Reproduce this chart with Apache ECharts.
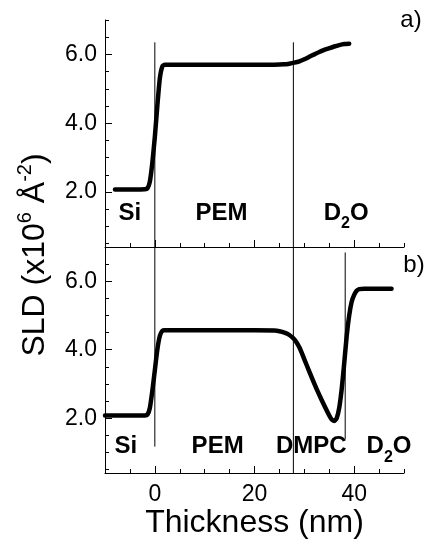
<!DOCTYPE html>
<html>
<head>
<meta charset="utf-8">
<style>
    html, body { margin: 0; padding: 0; background: #fff; }
    #chart { width: 426px; height: 542px; }
</style>
<script src="https://cdn.jsdelivr.net/npm/echarts@6/dist/echarts.min.js"></script>
</head>
<body>
<div id="chart"></div>
<script>
    // panel a) Si / PEM / D2O
    const thickA = [-8, -4, -2, -1.5, -1, -0.5, 0, 0.5, 1, 1.5, 2, 6, 12, 18, 24, 26, 27, 28, 29, 30, 31, 32, 33, 34, 35, 36, 37, 38, 39];
    const sldA = [2.07, 2.07, 2.08, 2.1, 2.3, 2.85, 3.6, 4.5, 5.3, 5.65, 5.7, 5.7, 5.7, 5.7, 5.7, 5.71, 5.73, 5.76, 5.8, 5.86, 5.93, 6.0, 6.07, 6.13, 6.18, 6.23, 6.27, 6.3, 6.31];

    // panel b) Si / PEM / DMPC / D2O
    const thickB = [-10, -4, -2, -1.5, -1, -0.5, 0, 0.5, 1, 1.5, 2, 8, 14, 20, 24, 25, 26, 27, 28, 29, 30, 31, 32, 33, 34, 35, 35.5, 36, 36.5, 37, 37.5, 38, 38.5, 39, 39.5, 40, 40.5, 41, 42, 45, 47.5];
    const sldB = [2.08, 2.08, 2.08, 2.1, 2.3, 2.8, 3.4, 4.0, 4.4, 4.55, 4.57, 4.57, 4.57, 4.57, 4.56, 4.54, 4.5, 4.43, 4.3, 4.07, 3.72, 3.36, 3.01, 2.68, 2.37, 2.08, 1.96, 1.92, 2.0, 2.3, 2.85, 3.6, 4.4, 5.0, 5.4, 5.6, 5.72, 5.77, 5.78, 5.78, 5.78];

    // layer boundaries: x position, top and bottom of the drawn line
    const boundAX = [0, 27.8];
    const boundATop = [6.35, 6.35];
    const boundABottom = [0.4, 0.4];
    const boundBX = [0, 27.8, 38.2];
    const boundBTop = [7.0, 7.0, 6.84];
    const boundBBottom = [1.17, 0.4, 1.38];

    // layer names and where they sit
    const layerA = ['Si', 'PEM', 'D{sub|2}O'];
    const layerAX = [-5, 13.4, 38.4];
    const layerAY = 1.39;
    const layerB = ['Si', 'PEM', 'DMPC', 'D{sub|2}O'];
    const layerBX = [-5.8, 12.6, 31.4, 47];
    const layerBY = 1.17;

    // ticks
    const xMajor = [0, 20, 40];
    const xMinor = [-5, 0, 5, 10, 15, 20, 25, 30, 35, 40, 45, 50];
    const yMajor = [2, 4, 6];
    const yMinor = [0.5, 1, 1.5, 2, 2.5, 3, 3.5, 4, 4.5, 5, 5.5, 6, 6.5, 7];

    const font = "'Liberation Sans', Arial, sans-serif";
    const xMin = -10, xMax = 50, yMin = 0.4, yMax = 7.0;

    const myChart = echarts.init(document.getElementById('chart'));

    function xAxes(grid, labels) {
        return [{
            gridIndex: grid, type: 'value', position: 'bottom', min: xMin, max: xMax,
            axisLine: { show: true, onZero: false, lineStyle: { color: '#000', width: 1 } },
            axisTick: { show: true, inside: true, length: 7, customValues: xMajor, lineStyle: { color: '#000' } },
            axisLabel: {
                show: labels, customValues: xMajor, margin: 10,
                color: '#000', fontSize: 23, fontFamily: font
            },
            splitLine: { show: false },
            name: labels ? 'Thickness (nm)' : '',
            nameLocation: 'middle', nameGap: 34,
            nameTextStyle: { color: '#000', fontSize: 32, fontFamily: font }
        }, {
            gridIndex: grid, type: 'value', position: 'bottom', min: xMin, max: xMax,
            axisLine: { show: false, onZero: false },
            axisTick: { show: true, inside: true, length: 4, customValues: xMinor, lineStyle: { color: '#000' } },
            axisLabel: { show: false },
            splitLine: { show: false }
        }];
    }

    function yAxes(grid) {
        return [{
            gridIndex: grid, type: 'value', position: 'left', min: yMin, max: yMax,
            axisLine: { show: true, onZero: false, lineStyle: { color: '#000', width: 1 } },
            axisTick: { show: true, inside: true, length: 7, customValues: yMajor, lineStyle: { color: '#000' } },
            axisLabel: {
                customValues: yMajor, margin: 8,
                color: '#000', fontSize: 23, fontFamily: font,
                formatter: v => v.toFixed(1)
            },
            splitLine: { show: false }
        }, {
            gridIndex: grid, type: 'value', position: 'left', min: yMin, max: yMax,
            axisLine: { show: false, onZero: false },
            axisTick: { show: true, inside: true, length: 4, customValues: yMinor, lineStyle: { color: '#000' } },
            axisLabel: { show: false },
            splitLine: { show: false }
        }];
    }

    const profileStyle = { color: '#000', width: 4.5, cap: 'round', join: 'round' };

    function profile(xs, ys, axis) {
        return {
            type: 'line', xAxisIndex: axis, yAxisIndex: axis,
            data: xs.map((x, i) => [x, ys[i]]),
            showSymbol: false, smooth: 0.2,
            lineStyle: profileStyle, silent: true, z: 3
        };
    }

    function boundaries(xs, tops, bottoms, axis) {
        return xs.map((x, i) => ({
            type: 'line', xAxisIndex: axis, yAxisIndex: axis,
            data: [[x, bottoms[i]], [x, tops[i]]],
            showSymbol: false,
            lineStyle: { color: '#000', width: 1 }, silent: true, z: 2
        }));
    }

    const labelRich = {
        sub: { fontSize: 16, fontWeight: 'bold', fontFamily: font, color: '#000', padding: [22, 0, 0, 0] }
    };

    function layers(names, xs, y, axis) {
        return {
            type: 'scatter', xAxisIndex: axis, yAxisIndex: axis,
            symbolSize: 0,
            data: names.map((n, i) => ({ value: [xs[i], y], name: n })),
            label: {
                show: true, position: 'inside',
                formatter: p => p.name,
                color: '#000', opacity: 1, textBorderWidth: 0,
                fontSize: 24, fontWeight: 'bold', fontFamily: font,
                rich: labelRich
            },
            silent: true, z: 4
        };
    }

    const option = {
        backgroundColor: '#fff',
        animation: false,
        grid: [
            { left: 105, top: 20, width: 299, height: 227 },
            { left: 105, top: 247, width: 299, height: 226 }
        ],
        xAxis: [...xAxes(0, false), ...xAxes(1, true)],
        yAxis: [...yAxes(0), ...yAxes(1)],
        series: [
            profile(thickA, sldA, 0),
            profile(thickB, sldB, 2),
            ...boundaries(boundAX, boundATop, boundABottom, 0),
            ...boundaries(boundBX, boundBTop, boundBBottom, 2),
            layers(layerA, layerAX, layerAY, 0),
            layers(layerB, layerBX, layerBY, 2)
        ],
        graphic: [{
            type: 'text', x: 35, y: 255, rotation: Math.PI / 2,
            style: {
                text: 'SLD (x10{sup|6} Å{sup|-2})',
                align: 'center', verticalAlign: 'middle',
                font: '32px ' + font, fill: '#000',
                rich: {
                    sup: { fontSize: 20, fontFamily: font, fill: '#000', padding: [0, 0, 20, 0] }
                }
            }
        }, {
            type: 'text', x: 411, y: 20,
            style: { text: 'a)', align: 'center', verticalAlign: 'middle', font: '24px ' + font, fill: '#000' }
        }, {
            type: 'text', x: 414, y: 265,
            style: { text: 'b)', align: 'center', verticalAlign: 'middle', font: '24px ' + font, fill: '#000' }
        }]
    };

    myChart.setOption(option);
</script>
</body>
</html>
